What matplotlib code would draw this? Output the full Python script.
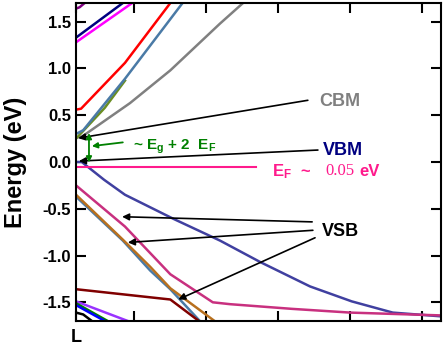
import matplotlib
matplotlib.use('Agg')
import matplotlib.pyplot as plt

plt.rcParams['font.family'] = ['Liberation Sans', 'DejaVu Sans']
plt.rcParams['mathtext.fontset'] = 'custom'
plt.rcParams['mathtext.rm'] = 'Liberation Sans'
plt.rcParams['mathtext.bf'] = 'Liberation Sans:bold'

# band data, k along the path (L at 0), energy in eV
gray_k = [0, 0.08, 0.75, 1.31, 2.0, 2.32]
gray_e = [0.26, 0.27, 0.63, 0.98, 1.48, 1.70]
olive_k = [0, 0.4, 0.68]
olive_e = [0.25, 0.58, 0.87]
steel_k = [0, 0.1, 0.68, 1.47]
steel_e = [0.30, 0.34, 0.89, 1.69]
red_k = [0, 0.07, 0.68, 1.31]
red_e = [0.56, 0.57, 1.06, 1.70]
navy_k = [0, 0.65]
navy_e = [1.33, 1.70]
magenta_k = [0, 0.78]
magenta_e = [1.28, 1.70]
purple_top_k = [0, 0.05, 0.12]
purple_top_e = [1.64, 1.655, 1.70]

vbm_k = [0, 0.08, 0.39, 0.68, 1.36, 2.0, 2.56, 3.25, 3.83, 4.40, 5.07]
vbm_e = [0, 0, -0.19, -0.35, -0.61, -0.84, -1.07, -1.33, -1.49, -1.61, -1.65]
pink_k = [0, 0.68, 1.31, 1.90, 2.14, 3.0, 3.81, 5.07]
pink_e = [-0.25, -0.69, -1.20, -1.50, -1.52, -1.57, -1.61, -1.64]
steel2_k = [0, 0.65, 1.03, 1.31, 1.72]
steel2_e = [-0.37, -0.84, -1.16, -1.36, -1.70]
brown_k = [0, 0.65, 1.03, 1.31, 1.96]
brown_e = [-0.35, -0.83, -1.12, -1.35, -1.72]
maroon_k = [0, 1.31, 1.69]
maroon_e = [-1.36, -1.47, -1.69]
violet_k = [0, 0.72]
violet_e = [-1.49, -1.70]
green_k = [0, 0.44]
green_e = [-1.51, -1.70]
blue_k = [0, 0.40]
blue_e = [-1.53, -1.70]
black_k = [0, 0.1, 0.22]
black_e = [-1.61, -1.63, -1.70]

ef_k = [0, 2.5]
ef_e = [-0.05, -0.05]

ytick_vals = [-1.5, -1.0, -0.5, 0.0, 0.5, 1.0, 1.5]
ytick_labels = ['-1.5', '-1.0', '-0.5', '0.0', '0.5', '1.0', '1.5']
xtick_vals = [0, 0.8, 1.8, 2.8, 3.8, 4.8]
xtick_labels = ['L', '', '', '', '', '']

fig = plt.figure(figsize=(4.43, 3.59), dpi=100)
ax = fig.add_axes([0.1716, 0.1058, 0.8239, 0.8858])

lw = 1.8
ax.plot(gray_k, gray_e, color='#808080', lw=lw)
ax.plot(olive_k, olive_e, color='#6b8e23', lw=lw)
ax.plot(steel_k, steel_e, color='#4a7aa6', lw=lw)
ax.plot(red_k, red_e, color='#ff0000', lw=lw)
ax.plot(navy_k, navy_e, color='#000080', lw=lw)
ax.plot(magenta_k, magenta_e, color='#ff00ff', lw=lw)
ax.plot(purple_top_k, purple_top_e, color='#800080', lw=lw)
ax.plot(vbm_k, vbm_e, color='#4040a0', lw=lw)
ax.plot(pink_k, pink_e, color='#c8307f', lw=lw)
ax.plot(steel2_k, steel2_e, color='#4a7aa6', lw=lw)
ax.plot(brown_k, brown_e, color='#b8701e', lw=lw)
ax.plot(maroon_k, maroon_e, color='#800000', lw=lw)
ax.plot(violet_k, violet_e, color='#9933ff', lw=lw)
ax.plot(green_k, green_e, color='#008000', lw=lw)
ax.plot(blue_k, blue_e, color='#0000ff', lw=lw)
ax.plot(black_k, black_e, color='black', lw=lw)
ax.plot(ef_k, ef_e, color='#ff1a8c', lw=1.5)

ax.set_xlim(0, 5.07)
ax.set_ylim(-1.7, 1.7)
ax.set_xticks(xtick_vals, xtick_labels)
ax.set_yticks(ytick_vals, ytick_labels)
ax.tick_params(direction='in', length=7, width=1.5, top=True, right=True,
               labelsize=12)
for lab in ax.get_xticklabels() + ax.get_yticklabels():
    lab.set_fontweight('bold')
ax.tick_params(axis='x', labelsize=13, pad=6)
for sp in ax.spines.values():
    sp.set_linewidth(1.5)
ax.set_ylabel('Energy (eV)', fontsize=17, fontweight='bold', labelpad=11)

arr = dict(arrowstyle='-|>', color='black', lw=1.2, mutation_scale=10,
           shrinkA=0, shrinkB=0)
ax.annotate('', xy=(0.03, 0.255), xytext=(3.22, 0.66), arrowprops=arr)
ax.annotate('', xy=(0.04, 0.01), xytext=(3.36, 0.128), arrowprops=arr)
ax.annotate('', xy=(0.64, -0.585), xytext=(3.28, -0.64), arrowprops=arr)
ax.annotate('', xy=(0.72, -0.86), xytext=(3.29, -0.73), arrowprops=arr)
ax.annotate('', xy=(1.42, -1.47), xytext=(3.32, -0.81), arrowprops=arr)

ax.text(3.38, 0.65, 'CBM', color='#808080', fontsize=13, fontweight='bold',
        va='center', ha='left')
ax.text(3.43, 0.128, 'VBM', color='#000080', fontsize=13, fontweight='bold',
        va='center', ha='left')
ax.text(3.42, -0.745, 'VSB', color='black', fontsize=13, fontweight='bold',
        va='center', ha='left')

# Fermi level label
ax.text(2.72, -0.10, r'$\mathbf{E_F}$  ~', color='#ff1a8c', fontsize=12,
        fontweight='bold', va='center', ha='left')
ax.text(3.46, -0.10, '0.05', color='#ff1a8c', fontsize=12,
        family='Liberation Serif', va='center', ha='left')
ax.text(3.93, -0.10, 'eV', color='#ff1a8c', fontsize=12, fontweight='bold',
        va='center', ha='left')

# gap marker
garr = dict(arrowstyle='<|-|>', color='#008000', lw=1.3, mutation_scale=8,
            shrinkA=0, shrinkB=0)
ax.annotate('', xy=(0.18, 0.31), xytext=(0.18, -0.005), arrowprops=garr)
ax.annotate('', xy=(0.22, 0.17), xytext=(0.65, 0.21),
            arrowprops=dict(arrowstyle='-|>', color='#008000', lw=1.3,
                            mutation_scale=8, shrinkA=0, shrinkB=0))
ax.text(0.79, 0.16, r'~ $\mathbf{E_g}$ + 2  $\mathbf{E_F}$', color='#008000',
        fontsize=11, fontweight='bold', va='center', ha='left')

fig.savefig('out.png', dpi=100)
